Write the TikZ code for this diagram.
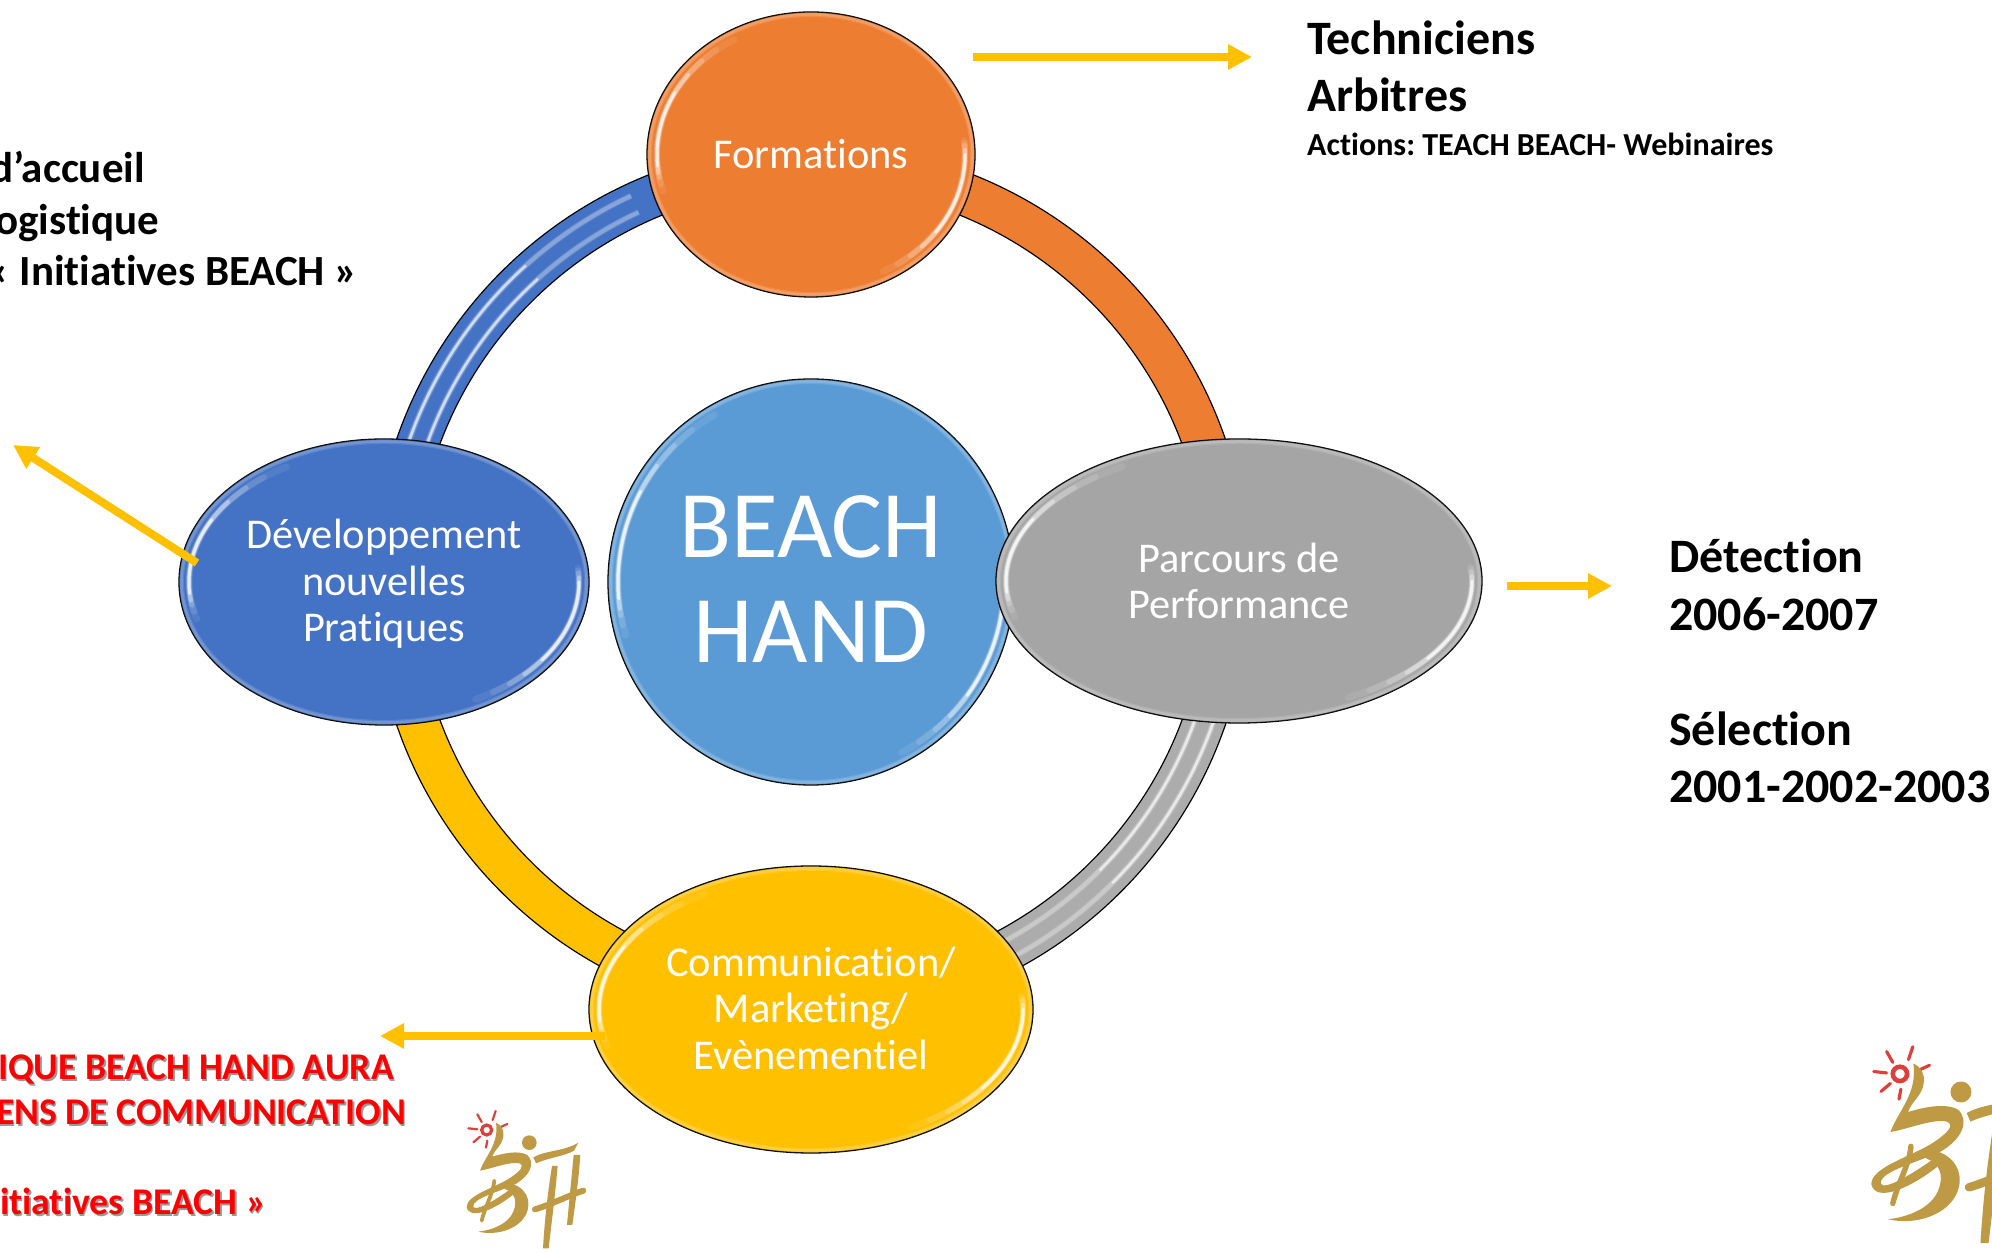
\documentclass[tikz,border=0pt]{standalone}
\usepackage{fontspec}
\setmainfont[Ligatures=NoCommon]{Carlito}
\usetikzlibrary{arrows.meta,shapes.geometric}
\definecolor{coreblue}{HTML}{5B9BD5}
\definecolor{devblue}{HTML}{4472C4}
\definecolor{formorange}{HTML}{ED7D31}
\definecolor{perfgray}{HTML}{A5A5A5}
\definecolor{commgold}{HTML}{FFC000}
\definecolor{logogold}{HTML}{BE9A45}
\definecolor{logored}{HTML}{DF3F3A}
\tikzset{
  ball/.style={shape=ellipse,draw=black,line width=1.3bp,fill=#1,text=white,align=center,inner sep=0pt,outer sep=0pt,
    font=\fontsize{42.4bp}{46.7bp}\selectfont},
  ringseg/.style={draw=black,line width=1.3bp,double=#1,double distance=41bp},
  flow/.style={draw=commgold,line width=8bp,->},
  blacktxt/.style={font=\bfseries\fontsize{48bp}{57.5bp}\selectfont,align=left,inner sep=0pt,anchor=base west},
  lefttxt/.style={font=\bfseries\fontsize{43bp}{51.5bp}\selectfont,inner sep=0pt,anchor=base east},
  redtxt/.style={font=\bfseries\fontsize{37.7bp}{45bp}\selectfont,text=red,inner sep=0pt,anchor=base east},
  logostroke/.style={line width={#1*\bhs*1bp},line cap=round},
}
\newcommand{\redshadow}[1]{\leavevmode\rlap{\kern1.6bp\raisebox{-1.6bp}{\color{black!40}#1}}#1}
% glossy rim of a ball: node, x radius, y radius
\newcommand{\gloss}[3]{%
  \pgfmathsetmacro{\rimx}{#2-2.5}\pgfmathsetmacro{\rimy}{#3-2.5}
  \draw[white,opacity=.12,line width=5bp] (#1.center) ellipse [x radius=\rimx bp,y radius=\rimy bp];
  \draw[white,opacity=.15,line width=2.5bp] (#1.center) ellipse [x radius=\rimx bp,y radius=\rimy bp];
  \pgfmathsetmacro{\rimx}{#2-10}\pgfmathsetmacro{\rimy}{#3-10}
  \foreach \s/\e/\w/\o in {120/196/7/.08,128/193/6/.12,135/190/5/.2,143/188/4/.35,152/185/3/.7,-62/6/7/.08,-56/5/6/.12,-50/4/5/.2,-44/2/4/.35,-36/0/3/.7}{
    \draw[white,line width=\w bp,opacity=\o,line cap=round] (#1.center) ++(\s:\rimx bp and \rimy bp)
      arc [start angle=\s,end angle=\e,x radius=\rimx bp,y radius=\rimy bp];
  }
}
% stripes on a ring part: start and end of the bright part, end of the faded part
\newcommand{\stripes}[3]{%
  \foreach \r in {408,426}{
    \draw[white,line width=6bp,opacity=.15] (core.center) ++(#1:\r bp) arc [start angle=#1,end angle=#3,radius=\r bp];
    \draw[white,line width=4bp,opacity=.25] (core.center) ++(#1:\r bp) arc [start angle=#1,end angle=#3,radius=\r bp];
    \draw[white,line width=2.5bp,opacity=.6] (core.center) ++(#1:\r bp) arc [start angle=#1,end angle=#2,radius=\r bp];
  }
}
% the logo: origin x, origin y, scale
\newcommand{\bhlogo}[3]{%
  \def\bhs{#3}
  \begin{scope}[shift={(#1bp,#2bp)},x=#3*0.3333bp,y=-#3*0.3333bp]
    \draw[logored,logostroke=3.2] (110,90) circle [radius=15];
    \foreach \a/\b/\c/\d in {82/43/95/66,137/33/128/60,55/85/82/88,70/127/90/110,108/143/112/122,172/72/150/82}{
      \draw[logored,logostroke=2.2] (\a,\b) -- (\c,\d);
    }
    \fill[logogold] (238,128) circle [radius=22];
    \fill[logogold] (138,68) .. controls (162,78) and (170,110) .. (146,140) .. controls (138,150) and (130,160) .. (127,170)
      .. controls (160,160) and (205,150) .. (232,165) .. controls (258,190) and (238,228) .. (197,252)
      .. controls (150,275) and (66,295) .. (70,320) .. controls (75,335) and (130,305) .. (185,265)
      -- (192,282) .. controls (135,328) and (60,362) .. (50,322) .. controls (48,285) and (140,262) .. (183,232)
      .. controls (212,212) and (225,197) .. (208,190) .. controls (178,184) and (130,205) .. (90,212)
      .. controls (105,170) and (148,130) .. (138,68) -- cycle;
    \fill[logogold] (165,248) .. controls (228,253) and (250,305) .. (226,347) .. controls (203,388) and (140,408) .. (85,395)
      .. controls (130,390) and (176,370) .. (190,335) .. controls (204,300) and (192,278) .. (165,267) -- cycle;
    \draw[logogold,logostroke=3.8] (133,242) .. controls (130,280) and (105,320) .. (95,362);
    \fill[logogold] (250,172) .. controls (290,150) and (340,155) .. (385,128) -- (372,152) .. controls (345,168) and (300,172) .. (258,190) -- cycle;
    \fill[logogold] (306,198) -- (323,198) .. controls (316,280) and (306,360) .. (296,445) -- (279,445) .. controls (284,360) and (293,280) .. (306,198) -- cycle;
    \fill[logogold] (371,165) -- (391,165) .. controls (386,240) and (376,310) .. (367,375) -- (351,375) .. controls (357,310) and (364,240) .. (371,165) -- cycle;
    \draw[logogold,logostroke=6] (255,328) .. controls (300,315) and (360,285) .. (400,272);
  \end{scope}
}
\begin{document}
\begin{tikzpicture}[>={Triangle[length=24bp,width=24bp]}]
\frenchspacing
\useasboundingbox (0,0) rectangle (1992bp,1252bp);
%%
\coordinate (ringN) at (811bp,1087bp);
\coordinate (ringS) at (811bp,253bp);
  \draw [ringseg=devblue] (ringN) arc [start angle=90,end angle=180,radius=417bp];
  \draw [ringseg=formorange] (ringN) arc [start angle=90,end angle=0,radius=417bp];
  \draw [ringseg=perfgray!92!white] (ringS) arc [start angle=270,end angle=360,radius=417bp];
  \draw [ringseg=commgold] (ringS) arc [start angle=270,end angle=180,radius=417bp];
\node (core) at (811bp,670bp) [ball=coreblue,minimum width=406bp,minimum height=406bp,font=\fontsize{95.5bp}{105bp}\selectfont] {BEACH\\HAND\rule[-5bp]{0pt}{5bp}};
  \stripes{170}{132}{115}
  \stripes{-10}{-45}{-62}
\gloss{core}{203}{203}
\node (form) at (811bp,1097.5bp) [ball=formorange,minimum width=328bp,minimum height=285bp] {Formations};
\gloss{form}{164}{142.5}
\node (perf) at (1239bp,671bp) [ball=perfgray,minimum width=486bp,minimum height=284bp] {Parcours de\\Performance};
\gloss{perf}{243}{142}
\node (comm) at (811bp,242.5bp) [ball=commgold,minimum width=444bp,minimum height=287bp] {Communication/\\Marketing/\\Evènementiel\rule[-3bp]{0pt}{3bp}};
\gloss{comm}{222}{143.5}
\node (dev) at (384bp,670bp) [ball=devblue,minimum width=410bp,minimum height=286bp] {\rule{0pt}{33bp}Développement\\nouvelles\\Pratiques};
\gloss{dev}{205}{143}
%
\coordinate (formout) at (973bp,1195bp);
\coordinate (formend) at (1252bp,1195bp);
\coordinate (perfout) at (1507bp,666bp);
\coordinate (perfend) at (1612bp,666bp);
\coordinate (devout) at (197bp,689bp);
\coordinate (devend) at (13bp,807bp);
\coordinate (commout) at (605bp,216bp);
\coordinate (commend) at (380bp,216bp);
  \draw [flow] (formout) -- (formend);
  \draw [flow] (perfout) -- (perfend);
  \draw [flow] (devout) -- (devend);
  \draw [flow] (commout) -- (commend);
%
\node (techniciens) at (1307bp,1197.5bp) [blacktxt] {Techniciens};
\node (arbitres) at (1307bp,1140bp) [blacktxt] {Arbitres};
\node (actions) at (1307bp,1096.5bp) [blacktxt,font=\bfseries\fontsize{32.05bp}{38bp}\selectfont] {Actions: TEACH BEACH- Webinaires};
\node (detection) at (1669bp,679bp) [blacktxt] {Détection};
\node (annees) at (1669bp,621bp) [blacktxt] {2006-2007};
\node (selection) at (1669bp,506bp) [blacktxt] {Sélection};
\node (anneesb) at (1669bp,449bp) [blacktxt] {2001-2002-2003};
\node (accueil) at (145bp,1069.5bp) [lefttxt] {d’accueil};
\node (logistique) at (159.5bp,1017.5bp) [lefttxt] {ogistique};
\node (initiatives) at (358bp,966.5bp) [lefttxt] {« Initiatives BEACH »};
\node (aura) at (394bp,172bp) [redtxt] {\redshadow{IQUE BEACH HAND AURA}};
\node (moyens) at (406bp,127bp) [redtxt] {\redshadow{ENS DE COMMUNICATION}};
\node (initred) at (266.5bp,37.5bp) [redtxt] {\redshadow{itiatives BEACH »}};
%
\bhlogo{450}{152}{1}
\bhlogo{1847.5}{221}{1.43}
%
\end{tikzpicture}
\end{document}
